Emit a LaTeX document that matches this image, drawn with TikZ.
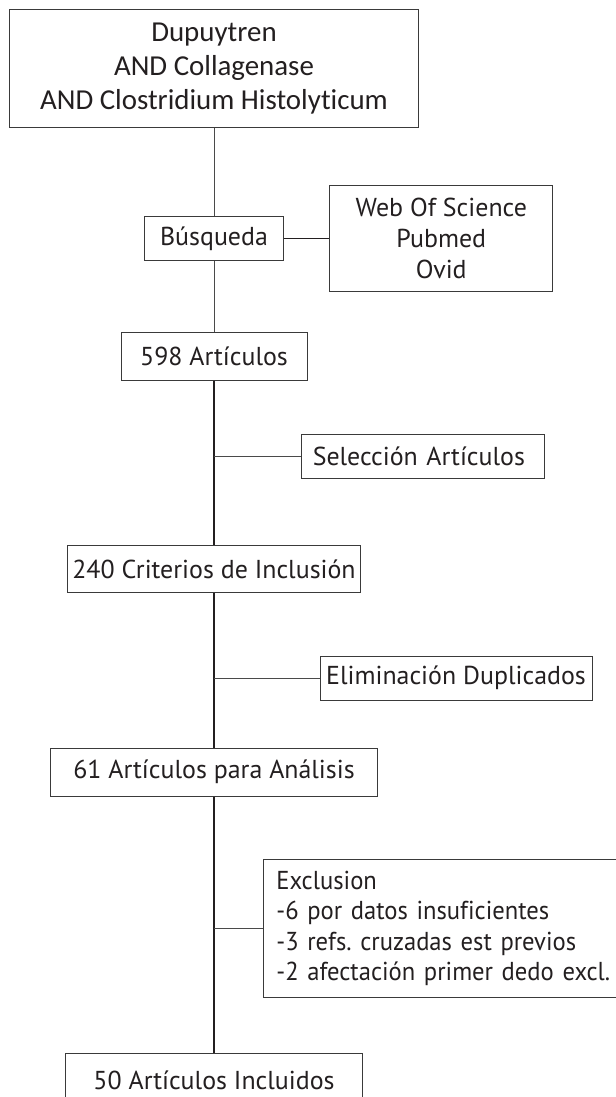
\documentclass[tikz,border=0pt]{standalone}
\usepackage{fontspec}
\setmainfont[Ligatures=NoCommon]{PT Sans}
\newfontfamily\narrowfont[Ligatures=NoCommon, FakeStretch=0.95]{PT Sans}
\newfontfamily\calibrifont[Ligatures=NoCommon]{Carlito}
\frenchspacing
\definecolor{boxc}{HTML}{3A3A3A}
\definecolor{txtc}{HTML}{231F20}
\definecolor{thinc}{HTML}{4A4A4A}
\tikzset{
  box/.style={draw=boxc, line width=0.9bp, inner sep=0pt, text=txtc,
    font=\fontsize{26}{31}\selectfont, align=center},
  lbox/.style={draw=boxc, line width=0.9bp, inner ysep=0pt, text=txtc,
    font=\fontsize{26}{30.7}\selectfont, align=left, anchor=west},
  thinline/.style={draw=thinc, line width=0.9bp},
  thickline/.style={draw=txtc, line width=1.5bp}
}
\begin{document}
\begin{tikzpicture}[x=1bp, y=-1bp]
\fill[white] (0,0) rectangle (616,1097);
\useasboundingbox (0,0) rectangle (616,1097);

\node[box, font=\calibrifont\fontsize{29}{34}\selectfont,
      minimum width=409bp, minimum height=118.4bp] (q) at (214,68.5)
  {Dupuytren\\AND Collagenase\\AND Clostridium Histolyticum};

\node[box, minimum width=139.7bp, minimum height=43.3bp] (busq) at (214,238.4) {Búsqueda};

\node[box, minimum width=223bp, minimum height=106.7bp] (wos) at (441.3,238.4)
  {Web Of Science\\Pubmed\\Ovid};

\node[box, minimum width=186bp, minimum height=47.3bp] (a598) at (214,356.4) {598 Artículos};

\node[lbox, inner xsep=11.3bp, text width=220bp, minimum height=44bp] (sel) at (301,456.2)
  {Selección Artículos};

\node[box, minimum width=293bp, minimum height=47.7bp] (a240) at (214,568.9) {240 Criterios de Inclusión};

\node[box, minimum width=272bp, minimum height=44bp] (elim) at (456,678) {Eliminación Duplicados};

\node[box, minimum width=326.5bp, minimum height=47.7bp] (a61) at (214,772.2) {61 Artículos para Análisis};

\node[lbox, font=\narrowfont\fontsize{26}{30.7}\selectfont, inner xsep=13.3bp, text width=420bp, minimum height=138.4bp] (excl) at (262.7,928.5)
  {Exclusion\\-6 por datos insuficientes\\-3 refs. cruzadas est previos\\-2 afectación primer dedo excl.};

\node[box, minimum width=297.5bp, minimum height=53.4bp] (a50) at (214,1080) {50 Artículos Incluidos};

\draw[thinline] (q.south) -- (busq.north);
\draw[thinline] (busq.south) -- (a598.north);
\draw[thickline] (busq.east) -- (wos.west);
\draw[thickline] (a598.south) -- (a240.north);
\draw[thickline] (a240.south) -- (a61.north);
\draw[thickline] (a61.south) -- (a50.north);
\draw[thinline] (a598.south |- sel.west) -- (sel.west);
\draw[thinline] (a240.south |- elim.west) -- (elim.west);
\draw[thinline] (a61.south |- excl.west) -- (excl.west);
\end{tikzpicture}
\end{document}
